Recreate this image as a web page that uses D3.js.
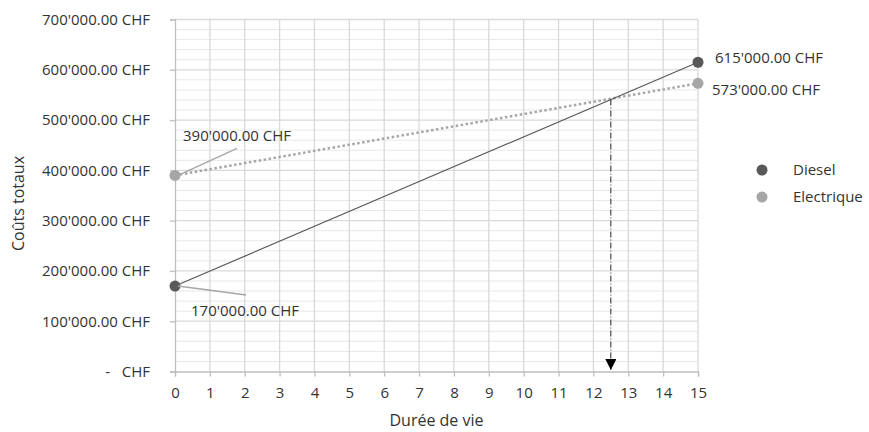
<!DOCTYPE html>
<html>
<head>
<meta charset="utf-8">
<script src="https://cdn.jsdelivr.net/npm/d3@7"></script>
<style>
  body { margin: 0; background: #fff; }
  svg text { font-family: "Open Sans", sans-serif; fill: #333; white-space: pre; }
</style>
</head>
<body>
<svg id="chart" width="869" height="432"></svg>
<script>
// data
let years = [0, 15];
let diesel = [170000, 615000];
let electrique = [390000, 573000];
let seriesNames = ["Diesel", "Electrique"];
let xTicks = [0, 1, 2, 3, 4, 5, 6, 7, 8, 9, 10, 11, 12, 13, 14, 15];
let yTicks = [0, 100000, 200000, 300000, 400000, 500000, 600000, 700000];
let yMinor = d3.range(0, 700001, 20000);
let breakEven = 12.5;

let colors = { Diesel: "#595959", Electrique: "#a6a6a6" };

let chf = d3.formatLocale({ decimal: ".", thousands: "'", grouping: [3], currency: ["", ""] });
let fmt = chf.format(",.2f");
let label = (v) => (v === 0 ? "-   CHF" : fmt(v) + " CHF");

let x = d3.scaleLinear().domain([0, 15]).range([175, 698]);
let y = d3.scaleLinear().domain([0, 700000]).range([371.5, 19.5]);

let svg = d3.select("#chart");

// minor horizontal grid
svg.append("g")
  .selectAll("line")
  .data(yMinor.filter((d) => d % 100000 !== 0))
  .enter()
  .append("line")
  .attr("x1", x(0)).attr("x2", x(15))
  .attr("y1", (d) => y(d)).attr("y2", (d) => y(d))
  .attr("stroke", "#e8e8e8").attr("stroke-width", 1);

// vertical grid
svg.append("g")
  .selectAll("line")
  .data(xTicks.filter((d) => d > 0))
  .enter()
  .append("line")
  .attr("x1", (d) => x(d)).attr("x2", (d) => x(d))
  .attr("y1", y(700000)).attr("y2", y(0))
  .attr("stroke", "#d9d9d9").attr("stroke-width", 1.3);

// major horizontal grid
svg.append("g")
  .selectAll("line")
  .data(yTicks.filter((d) => d > 0))
  .enter()
  .append("line")
  .attr("x1", x(0)).attr("x2", x(15))
  .attr("y1", (d) => y(d)).attr("y2", (d) => y(d))
  .attr("stroke", "#d9d9d9").attr("stroke-width", 1.3);

// axes
let yAxis = svg.append("g")
  .attr("transform", `translate(${x(0)},0)`)
  .call(d3.axisLeft(y).tickValues(yTicks).tickFormat(label).tickSize(5).tickPadding(20));
let xAxis = svg.append("g")
  .attr("transform", `translate(0,${y(0)})`)
  .call(d3.axisBottom(x).tickValues(xTicks).tickSize(5).tickPadding(11));
[yAxis, xAxis].forEach((g) => {
  g.select(".domain").attr("stroke", "#bfbfbf").attr("stroke-width", 1.3);
  g.selectAll(".tick line").attr("stroke", "#bfbfbf").attr("stroke-width", 1.3);
  g.selectAll(".tick text").style("font-size", "15px").attr("fill", "#333");
});

// axis titles
svg.append("text")
  .attr("transform", `translate(24,${(y(0) + y(700000)) / 2 + 8}) rotate(-90)`)
  .attr("text-anchor", "middle")
  .style("font-size", "16px")
  .text("Coûts totaux");
svg.append("text")
  .attr("x", (x(0) + x(15)) / 2)
  .attr("y", 426)
  .attr("text-anchor", "middle")
  .style("font-size", "16px")
  .text("Durée de vie");

// lines
let line = d3.line().x((d, i) => x(years[i])).y((d) => y(d));
svg.append("path")
  .datum(electrique)
  .attr("d", line)
  .attr("fill", "none")
  .attr("stroke", colors.Electrique)
  .attr("stroke-width", 2.5)
  .attr("stroke-dasharray", "2.5,2.5");
svg.append("path")
  .datum(diesel)
  .attr("d", line)
  .attr("fill", "none")
  .attr("stroke", colors.Diesel)
  .attr("stroke-width", 1.2);

// break-even arrow
svg.append("defs").append("marker")
  .attr("id", "arrow")
  .attr("viewBox", "0 0 10 10")
  .attr("refX", 10).attr("refY", 5)
  .attr("markerWidth", 11).attr("markerHeight", 11)
  .attr("markerUnits", "userSpaceOnUse")
  .attr("orient", "auto")
  .append("path")
  .attr("d", "M0,0 L10,5 L0,10 Z")
  .attr("fill", "#000");
let slopeD = (diesel[1] - diesel[0]) / 15;
svg.append("line")
  .attr("x1", x(breakEven)).attr("x2", x(breakEven))
  .attr("y1", y(diesel[0] + slopeD * breakEven))
  .attr("y2", y(3000))
  .attr("stroke", "#262626")
  .attr("stroke-width", 1)
  .attr("stroke-dasharray", "6,2,1,2")
  .attr("marker-end", "url(#arrow)");

// markers
[["Diesel", diesel], ["Electrique", electrique]].forEach(([name, vals]) => {
  svg.append("g")
    .selectAll("circle")
    .data(vals)
    .enter()
    .append("circle")
    .attr("cx", (d, i) => x(years[i]))
    .attr("cy", (d) => y(d))
    .attr("r", 5.5)
    .attr("fill", colors[name]);
});

// data labels with leader lines
let leaders = [
  { v: electrique[0], dx: 62, dy: -27, tx: 8, ty: -40 },
  { v: diesel[0], dx: 71, dy: 9, tx: 16, ty: 25 }
];
leaders.forEach((l) => {
  svg.append("line")
    .attr("x1", x(0) + 3).attr("y1", y(l.v))
    .attr("x2", x(0) + l.dx).attr("y2", y(l.v) + l.dy)
    .attr("stroke", "#a6a6a6").attr("stroke-width", 1.3);
  svg.append("text")
    .attr("x", x(0) + l.tx)
    .attr("y", y(l.v) + l.ty)
    .attr("dy", "0.35em")
    .style("font-size", "15px")
    .text(label(l.v));
});
svg.append("text")
  .attr("x", x(15) + 17).attr("y", y(diesel[1]) - 4).attr("dy", "0.35em")
  .style("font-size", "15px").text(label(diesel[1]));
svg.append("text")
  .attr("x", x(15) + 14).attr("y", y(electrique[1]) + 6).attr("dy", "0.35em")
  .style("font-size", "15px").text(label(electrique[1]));

// legend
let legend = svg.append("g")
  .selectAll("g")
  .data(seriesNames)
  .enter()
  .append("g")
  .attr("transform", (d, i) => `translate(762,${170 + i * 27})`);
legend.append("circle").attr("r", 5.5).attr("fill", (d) => colors[d]);
legend.append("text")
  .attr("x", 31).attr("dy", "0.35em")
  .style("font-size", "15px")
  .text((d) => d);
</script>
</body>
</html>
